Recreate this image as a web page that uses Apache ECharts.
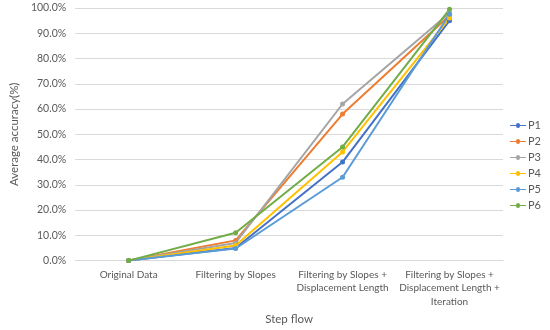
<!DOCTYPE html>
<html><head><meta charset="utf-8">
<script src="https://cdn.jsdelivr.net/npm/echarts@6/dist/echarts.min.js"></script>
<style>html,body{margin:0;padding:0;background:#fff}#c{width:550px;height:330px}</style>
</head><body><div id="c"></div>
<script>
var categories = ["Original Data", "Filtering by Slopes", "Filtering by Slopes +\nDisplacement Length", "Filtering by Slopes +\nDisplacement Length +\nIteration"];
var seriesNames = ["P1", "P2", "P3", "P4", "P5", "P6"];
var P1 = [0, 5.0, 39.0, 95.0];
var P2 = [0, 8.0, 58.0, 97.0];
var P3 = [0, 7.0, 62.0, 98.0];
var P4 = [0, 6.0, 43.0, 96.0];
var P5 = [0, 4.8, 33.0, 97.5];
var P6 = [0, 11.0, 45.0, 99.5];
var colors = ["#4472C4", "#ED7D31", "#A5A5A5", "#FFC000", "#5B9BD5", "#70AD47"];
var yTicks = [0, 10, 20, 30, 40, 50, 60, 70, 80, 90, 100];

var seriesData = [P1, P2, P3, P4, P5, P6];
var font = "Lato, 'Open Sans', sans-serif";
var chart = echarts.init(document.getElementById('c'));
chart.setOption({
  animation: false,
  color: colors,
  textStyle: {fontFamily: font},
  grid: {left: 58, right: 47, top: 8, bottom: 67},
  legend: {
    orient: 'vertical', right: 4, top: 115, itemGap: 5,
    itemWidth: 16, itemHeight: 8, icon: 'path://M0,3.5 L6,3.5 A2,2 0 1 1 10,3.5 L16,3.5 L16,4.5 L10,4.5 A2,2 0 1 1 6,4.5 L0,4.5 Z',
    textStyle: {fontSize: 11, color: '#595959', fontFamily: font, padding: [0,0,0,-3]},
    data: seriesNames
  },
  xAxis: {
    type: 'category', data: categories, boundaryGap: true,
    name: 'Step flow', nameLocation: 'middle', nameGap: 51,
    nameTextStyle: {fontSize: 11.5, color: '#595959', fontFamily: font},
    axisLine: {lineStyle: {color: '#d9d9d9'}}, axisTick: {show: false},
    axisLabel: {fontSize: 10, color: '#595959', lineHeight: 13.5, margin: 7, interval: 0, fontFamily: font}
  },
  yAxis: {
    type: 'value', min: yTicks[0], max: yTicks[yTicks.length-1], interval: 10,
    name: 'Average accuracy(%)', nameLocation: 'middle', nameGap: 44,
    nameTextStyle: {fontSize: 11.5, color: '#595959', fontFamily: font},
    axisLine: {show: false}, axisTick: {show: false},
    splitLine: {lineStyle: {color: '#d9d9d9'}},
    axisLabel: {fontSize: 10.5, color: '#595959', margin: 9, fontFamily: font,
      formatter: function(v){ return v.toFixed(1) + '%'; }}
  },
  series: seriesNames.map(function(n, i){
    return {name: n, type: 'line', data: seriesData[i], symbol: 'circle', symbolSize: 5,
      lineStyle: {width: 2}, itemStyle: {color: colors[i]}};
  })
});
</script></body></html>
